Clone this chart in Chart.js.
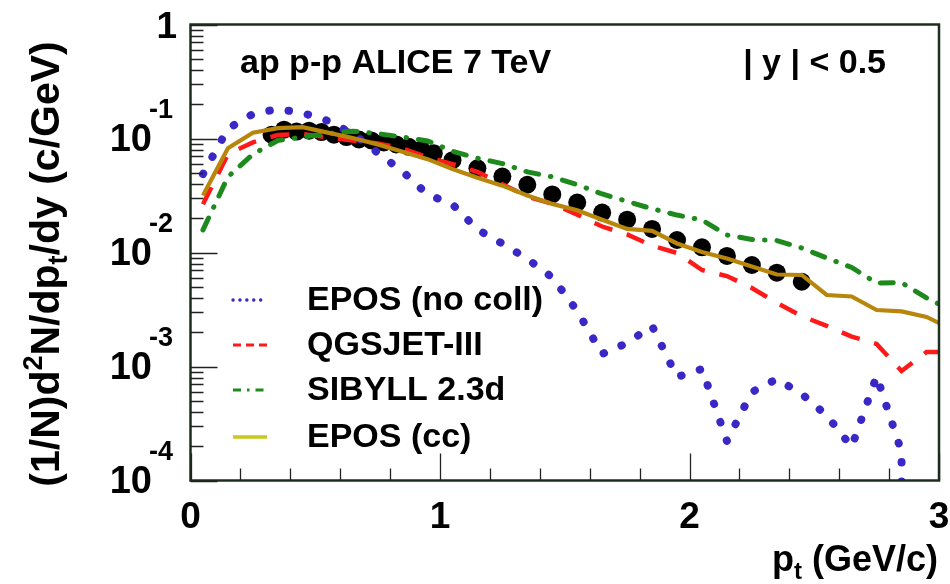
<!DOCTYPE html>
<html><head><meta charset="utf-8">
<script src="https://cdn.jsdelivr.net/npm/chart.js@4.4.1/dist/chart.umd.min.js"></script>
<style>html,body{margin:0;padding:0;background:#fff;}#wrap{width:950px;height:584px;}</style>
</head><body><div id="wrap"><canvas id="c" width="950" height="584"></canvas></div>
<script>
// ---- data ----
const ptModel = [0.05,0.15,0.25,0.35,0.45,0.55,0.65,0.75,0.85,0.95,1.05,1.15,1.25,1.35,1.45,1.55,1.65,1.75,1.85,1.95,2.05,2.15,2.25,2.35,2.45,2.55,2.65,2.75,2.85,2.95,3.05];
const ptEposNoColl = [0.05,0.15,0.25,0.35,0.45,0.55,0.65,0.75,0.85,0.95,1.05,1.15,1.25,1.35,1.45,1.55,1.65,1.75,1.85,1.95,2.05,2.15,2.25,2.35,2.45,2.55,2.65,2.75,2.85,2.85];
const eposNoColl = [0.0488,0.1220,0.1642,0.1814,0.1675,0.1429,0.1104,0.0750,0.0514,0.0323,0.02644,0.01594,0.01196,0.00879,0.00604,0.00307,0.001287,0.001608,0.002266,0.000809,0.000951,0.000222,0.000597,0.000777,0.000574,0.000372,0.000197,0.000825,0.000178,0.000001];
const qgsjet3 = [0.02644,0.0728,0.0924,0.1072,0.1093,0.1020,0.0961,0.0906,0.0815,0.0686,0.0597,0.0509,0.0397,0.0310,0.0267,0.0215,0.0169,0.0144,0.01151,0.0099,0.00702,0.00622,0.00488,0.00361,0.00277,0.00227,0.00183,0.001576,0.000913,0.00134,0.00134];
const sibyll23d = [0.01579,0.0461,0.0728,0.0961,0.1030,0.1104,0.1160,0.1104,0.1030,0.0952,0.0773,0.0672,0.0603,0.0509,0.0461,0.0393,0.0326,0.0281,0.0242,0.0213,0.01928,0.01424,0.0130,0.01274,0.01095,0.00895,0.00739,0.0054,0.00543,0.00399,0.00313];
const eposCC = [0.0316,0.0820,0.1126,0.1232,0.1256,0.1126,0.1010,0.0888,0.0765,0.0659,0.0540,0.0452,0.0386,0.0316,0.0267,0.0235,0.0194,0.0161,0.0155,0.0120,0.0101,0.00886,0.00754,0.00641,0.00635,0.00424,0.00411,0.00313,0.00304,0.00272,0.00213];
const ptAlice = [0.325,0.375,0.425,0.475,0.525,0.575,0.625,0.675,0.725,0.775,0.825,0.875,0.925,0.975,1.05,1.15,1.25,1.35,1.45,1.55,1.65,1.75,1.85,1.95,2.05,2.15,2.25,2.35,2.45];
const aliceData = [0.108,0.1196,0.1149,0.1172,0.1138,0.108,0.1030,0.0980,0.0961,0.0924,0.0888,0.0845,0.0804,0.0743,0.0646,0.0548,0.0464,0.0393,0.0323,0.0274,0.0224,0.0194,0.0161,0.01287,0.0111,0.00932,0.00777,0.00665,0.00554];
const seriesNames = ['EPOS (no coll)','QGSJET-III','SIBYLL 2.3d','EPOS (cc)'];
const xMajorTicks = [0,1,2,3];
const xTickLabels = ['0','1','2','3'];
const xMinorStep = 0.2;
const yDecadeTicks = [1,0.1,0.01,0.001,0.0001];
const yTickExponents = ['','-1','-2','-3','-4'];
const annotationLeft = 'ap p-p ALICE 7 TeV';
const annotationRight = '| y | < 0.5';

const toXY = (xs, ys) => xs.map((x,i)=>({x:x, y:ys[i]}));

const FONT = '"Liberation Sans", Arial, Helvetica, sans-serif';
const COL = {blue:'#3a28c6', red:'#ff1a1a', green:'#1e8a1e', gold:'#b8860b', legGold:'#c8c81e'};

const decor = {
  id:'decor',
  afterDraw(chart){
    const ctx = chart.ctx, xs = chart.scales.x, ys = chart.scales.y, a = chart.chartArea;
    ctx.save();
    // frame
    ctx.strokeStyle = '#1c2e1c'; ctx.lineWidth = 2.5;
    ctx.strokeRect(a.left, a.top, a.right-a.left, a.bottom-a.top);
    // y ticks (inside)
    ctx.strokeStyle = '#222'; ctx.lineWidth = 1.3;
    ctx.beginPath();
    yDecadeTicks.forEach(d => {
      for (let m=1; m<=9; m++){
        const v = d*m; if (v > 1.0001) break;
        const y = Math.round(ys.getPixelForValue(v))+0.5;
        const len = m===1 ? 27 : 13;
        ctx.moveTo(a.left, y); ctx.lineTo(a.left+len, y);
      }
    });
    // x ticks
    for (let v=0; v<=3.0001; v+=xMinorStep){
      const x = Math.round(xs.getPixelForValue(v))+0.5;
      const major = xMajorTicks.some(t=>Math.abs(t-v)<1e-6);
      const len = major ? 27 : 12;
      ctx.moveTo(x, a.bottom); ctx.lineTo(x, a.bottom-len);
    }
    ctx.stroke();
    // x tick labels
    ctx.fillStyle = '#000';
    ctx.font = 'bold 37px '+FONT; ctx.textAlign = 'center'; ctx.textBaseline = 'alphabetic';
    xMajorTicks.forEach((t,i)=>{ ctx.fillText(xTickLabels[i], xs.getPixelForValue(t), 528); });
    // y tick labels
    yDecadeTicks.forEach((d,i)=>{
      const y = ys.getPixelForValue(d);
      if (yTickExponents[i]===''){
        ctx.font = 'bold 37px '+FONT; ctx.textAlign='right'; ctx.textBaseline='middle';
        ctx.fillText('1', 177, y+3);
      } else {
        ctx.font = 'bold 38px '+FONT; ctx.textAlign='right'; ctx.textBaseline='middle';
        ctx.fillText('10', 152, y+2);
        ctx.font = 'bold 27px '+FONT; ctx.textAlign='left';
        ctx.fillText(yTickExponents[i], 149, y-28);
      }
    });
    // x title
    ctx.textBaseline='alphabetic'; ctx.textAlign='left';
    const fMain = 'bold 36px '+FONT, fSub = 'bold 24px '+FONT;
    ctx.font = fMain; const wp = ctx.measureText('p').width; const wr = ctx.measureText(' (GeV/c)').width;
    ctx.font = fSub; const wt = ctx.measureText('t').width;
    let x0 = 938 - (wp+wt+wr);
    ctx.font = fMain; ctx.fillText('p', x0, 571);
    ctx.font = fSub; ctx.fillText('t', x0+wp, 579);
    ctx.font = fMain; ctx.fillText(' (GeV/c)', x0+wp+wt, 571);
    // y title (rotated)
    const parts = [['(1/N)d','m'],['2','sup'],['N/dp','m'],['t','sub'],['/dy (c/GeV)','m']];
    const fy = 'bold 41px '+FONT, fys = 'bold 27px '+FONT;
    let tot = 0;
    parts.forEach(p=>{ ctx.font = p[1]==='m'?fy:fys; p.w = ctx.measureText(p[0]).width; tot += p.w; });
    ctx.save();
    ctx.translate(59, 264); ctx.rotate(-Math.PI/2);
    let cx = -tot/2;
    parts.forEach(p=>{
      ctx.font = p[1]==='m'?fy:fys;
      const dy = p[1]==='sup' ? -17 : (p[1]==='sub' ? 8 : 0);
      ctx.fillText(p[0], cx, dy); cx += p.w;
    });
    ctx.restore();
    // annotations
    ctx.font = 'bold 34px '+FONT; ctx.textAlign='left'; ctx.textBaseline='alphabetic';
    ctx.fillText(annotationLeft, 240, 73);
    ctx.textAlign='right';
    ctx.fillText(annotationRight, 886, 73);
    // legend
    const ly = [300,345,390,437];
    const styles = [
      {c:COL.blue, w:3.4, dash:[0.1,6.8], cap:'round'},
      {c:COL.red, w:3.2, dash:[8,5], cap:'butt'},
      {c:COL.green, w:3.2, dash:[8,6,2.5,6], cap:'butt'},
      {c:COL.legGold, w:3.5, dash:[], cap:'butt'}
    ];
    styles.forEach((s,i)=>{
      ctx.save();
      ctx.strokeStyle=s.c; ctx.lineWidth=s.w; ctx.setLineDash(s.dash); ctx.lineCap=s.cap;
      ctx.beginPath(); ctx.moveTo(233, ly[i]); ctx.lineTo(267, ly[i]); ctx.stroke();
      ctx.restore();
      ctx.font = 'bold 34px '+FONT; ctx.textAlign='left'; ctx.textBaseline='middle';
      ctx.fillStyle='#000';
      ctx.fillText(seriesNames[i], 307, ly[i]+1);
    });
    ctx.restore();
  }
};

new Chart(document.getElementById('c'), {
  type:'line',
  data:{ datasets:[
    {label:seriesNames[3], data:toXY(ptModel,eposCC), borderColor:COL.gold, borderWidth:4.2, pointRadius:0, order:0},
    {label:seriesNames[2], data:toXY(ptModel,sibyll23d), borderColor:COL.green, borderWidth:5, borderDash:[13,12,0.5,12], borderCapStyle:'round', pointRadius:0, order:1},
    {label:seriesNames[1], data:toXY(ptModel,qgsjet3), borderColor:COL.red, borderWidth:4.5, borderDash:[19,15], pointRadius:0, order:2},
    {label:seriesNames[0], data:toXY(ptEposNoColl,eposNoColl), borderColor:COL.blue, borderWidth:8, borderDash:[0.5,19], borderCapStyle:'round', pointRadius:0, order:3},
    {label:'ALICE', data:toXY(ptAlice,aliceData), showLine:false, pointRadius:9, pointBackgroundColor:'#000', pointBorderWidth:0, borderColor:'#000', order:4}
  ]},
  options:{
    responsive:false, animation:false, devicePixelRatio:1,
    layout:{padding:{left:190.5, top:24.5, right:11, bottom:103.5}},
    elements:{line:{tension:0, fill:false}},
    plugins:{legend:{display:false}, tooltip:{enabled:false}},
    scales:{
      x:{type:'linear', min:0, max:3, display:false},
      y:{type:'logarithmic', min:0.0001, max:1, display:false}
    }
  },
  plugins:[decor]
});
</script></body></html>
